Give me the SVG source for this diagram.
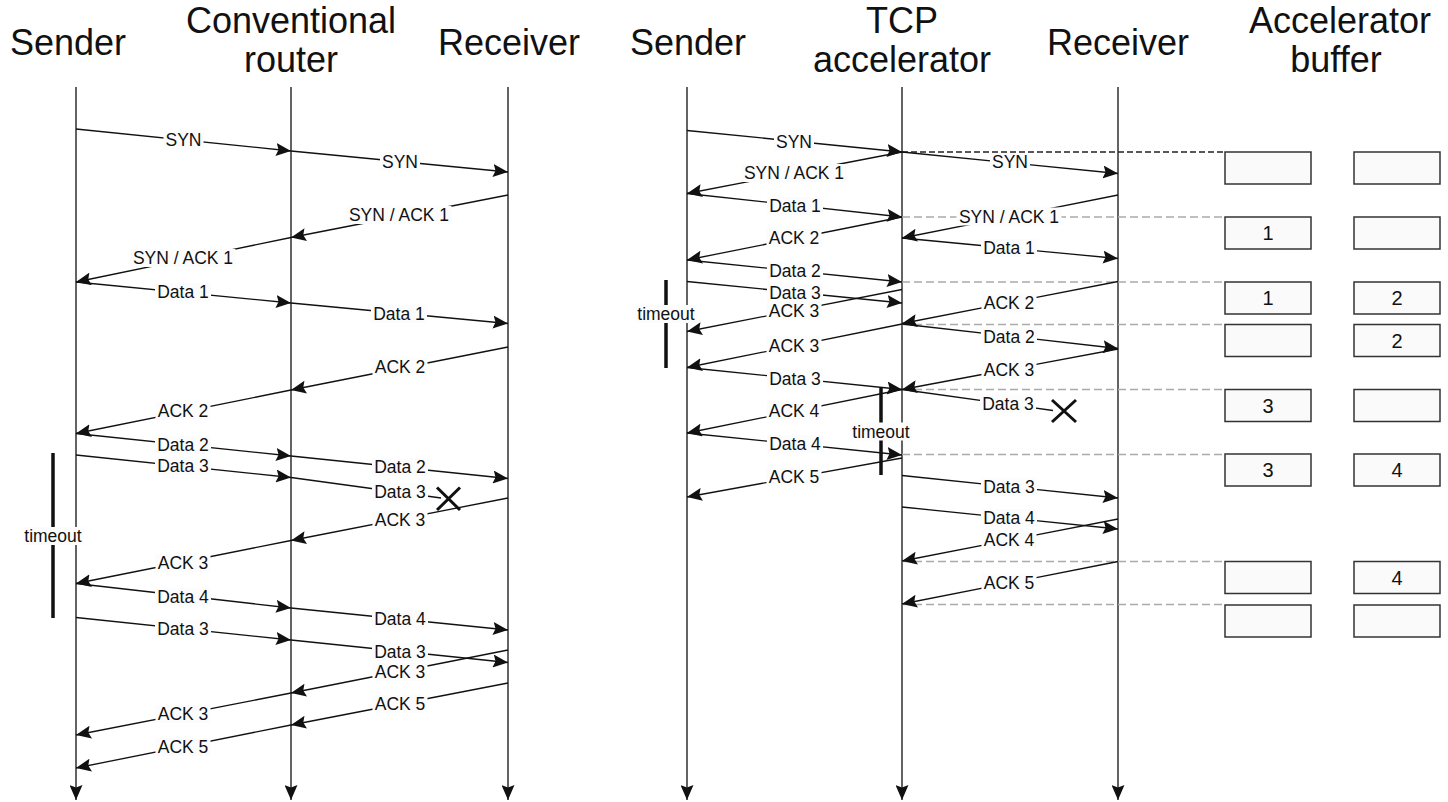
<svg xmlns="http://www.w3.org/2000/svg" width="1448" height="802" viewBox="0 0 1448 802">
<style>
.title{font-family:"Liberation Sans",Arial,sans-serif;font-size:36px;fill:#111;text-anchor:middle}
.ll{stroke:#222;stroke-width:1.4;fill:none;marker-end:url(#ah)}
.m{stroke:#111;stroke-width:1.3;fill:none;marker-end:url(#ah)}
.m0{stroke:#111;stroke-width:1.3;fill:none}
.bg{fill:#fcfcfc}
.lbl{font-family:"Liberation Sans",Arial,sans-serif;font-size:17.5px;fill:#111;text-anchor:middle}
.dk{stroke:#222;stroke-width:1.5;stroke-dasharray:6 3;fill:none}
.dg{stroke:#aaa;stroke-width:1.5;stroke-dasharray:8 4;fill:none}
.box{fill:#fafafa;stroke:#333;stroke-width:1.5}
.num{font-family:"Liberation Sans",Arial,sans-serif;font-size:20px;fill:#111;text-anchor:middle}
.tb{stroke:#111;stroke-width:3.5}
.x{stroke:#111;stroke-width:3}
</style>
<defs>
<marker id="ah" markerUnits="userSpaceOnUse" viewBox="0 0 15 13" markerWidth="15" markerHeight="13" refX="15" refY="6.5" orient="auto">
<path d="M0,0 L15,6.5 L0,13 L2.5,6.5 z" fill="#111"/>
</marker>
</defs>
<rect width="1448" height="802" fill="#fff"/>

<g id="l-sender"><text class="title" x="68" y="55">Sender</text><line class="ll" x1="76" y1="87" x2="76" y2="800"/></g>
<g id="l-router"><text class="title" x="291" y="33">Conventional</text><text class="title" x="291" y="72">router</text><line class="ll" x1="291" y1="87" x2="291" y2="800"/></g>
<g id="l-receiver"><text class="title" x="509" y="55">Receiver</text><line class="ll" x1="508" y1="87" x2="508" y2="800"/></g>
<g id="r-sender"><text class="title" x="688" y="55">Sender</text><line class="ll" x1="687" y1="87" x2="687" y2="800"/></g>
<g id="r-accel"><text class="title" x="902" y="33">TCP</text><text class="title" x="902" y="72">accelerator</text><line class="ll" x1="902" y1="87" x2="902" y2="800"/></g>
<g id="r-receiver"><text class="title" x="1118" y="55">Receiver</text><line class="ll" x1="1118" y1="87" x2="1118" y2="800"/></g>

<g id="buffer">
<text class="title" x="1340" y="33">Accelerator</text><text class="title" x="1336" y="72">buffer</text>
<g id="buf1"><rect class="box" x="1225" y="152" width="86" height="32"/><rect class="box" x="1354" y="152" width="86" height="32"/></g>
<g id="buf2"><rect class="box" x="1225" y="217" width="86" height="32"/><rect class="box" x="1354" y="217" width="86" height="32"/><text class="num" x="1268" y="240">1</text></g>
<g id="buf3"><rect class="box" x="1225" y="282" width="86" height="32"/><rect class="box" x="1354" y="282" width="86" height="32"/><text class="num" x="1268" y="305">1</text><text class="num" x="1397" y="305">2</text></g>
<g id="buf4"><rect class="box" x="1225" y="324.5" width="86" height="32"/><rect class="box" x="1354" y="324.5" width="86" height="32"/><text class="num" x="1397" y="347.5">2</text></g>
<g id="buf5"><rect class="box" x="1225" y="389.5" width="86" height="32"/><rect class="box" x="1354" y="389.5" width="86" height="32"/><text class="num" x="1268" y="412.5">3</text></g>
<g id="buf6"><rect class="box" x="1225" y="454" width="86" height="32"/><rect class="box" x="1354" y="454" width="86" height="32"/><text class="num" x="1268" y="477">3</text><text class="num" x="1397" y="477">4</text></g>
<g id="buf7"><rect class="box" x="1225" y="561.5" width="86" height="32"/><rect class="box" x="1354" y="561.5" width="86" height="32"/><text class="num" x="1397" y="584.5">4</text></g>
<g id="buf8"><rect class="box" x="1225" y="605" width="86" height="32"/><rect class="box" x="1354" y="605" width="86" height="32"/></g>
</g>

<g id="connectors">
<line class="dk" x1="902" y1="152" x2="1225" y2="152"/>
<line class="dg" x1="902" y1="217" x2="1225" y2="217"/>
<line class="dg" x1="902" y1="282" x2="1225" y2="282"/>
<line class="dg" x1="902" y1="324.5" x2="1225" y2="324.5"/>
<line class="dg" x1="902" y1="389.5" x2="1225" y2="389.5"/>
<line class="dg" x1="902" y1="454.5" x2="1225" y2="454.5"/>
<line class="dg" x1="902" y1="561.5" x2="1225" y2="561.5"/>
<line class="dg" x1="902" y1="604.5" x2="1225" y2="604.5"/>

<line class="m" x1="76" y1="129" x2="291" y2="151"/>
<line class="m" x1="291" y1="151" x2="508" y2="172"/>
<line class="m" x1="508" y1="195" x2="291" y2="237.5"/>
<line class="m" x1="291" y1="237.5" x2="76" y2="282"/>
<line class="m" x1="76" y1="282" x2="291" y2="303"/>
<line class="m" x1="291" y1="303" x2="508" y2="323.5"/>
<line class="m" x1="508" y1="347" x2="291" y2="390"/>
<line class="m" x1="291" y1="390" x2="76" y2="433.5"/>
<line class="m" x1="76" y1="433.5" x2="291" y2="456"/>
<line class="m" x1="76" y1="455" x2="291" y2="477.5"/>
<line class="m" x1="291" y1="456" x2="508" y2="478.5"/>
<line class="m0" x1="291" y1="477.5" x2="441" y2="498"/>
<line class="m" x1="508" y1="498" x2="291" y2="540.5"/>
<line class="m" x1="291" y1="540.5" x2="76" y2="583.5"/>
<line class="m" x1="76" y1="583.5" x2="291" y2="608"/>
<line class="m" x1="291" y1="608" x2="508" y2="630"/>
<line class="m" x1="76" y1="617.5" x2="291" y2="640"/>
<line class="m" x1="291" y1="640" x2="508" y2="662.5"/>
<line class="m" x1="508" y1="650" x2="291" y2="693"/>
<line class="m" x1="508" y1="683" x2="291" y2="725"/>
<line class="m" x1="291" y1="693" x2="76" y2="735"/>
<line class="m" x1="291" y1="725" x2="76" y2="768"/>

<line class="m" x1="687" y1="130.5" x2="902" y2="152"/>
<line class="m" x1="902" y1="152" x2="1118" y2="173.5"/>
<line class="m" x1="902" y1="152" x2="687" y2="193.5"/>
<line class="m" x1="687" y1="193.5" x2="902" y2="217"/>
<line class="m" x1="1118" y1="195" x2="902" y2="238"/>
<line class="m" x1="902" y1="217" x2="687" y2="260"/>
<line class="m" x1="902" y1="238" x2="1118" y2="258.5"/>
<line class="m" x1="687" y1="260" x2="902" y2="282"/>
<line class="m" x1="687" y1="281.5" x2="902" y2="303"/>
<line class="m" x1="902" y1="289.5" x2="687" y2="331.5"/>
<line class="m" x1="1118" y1="281.5" x2="902" y2="323.5"/>
<line class="m" x1="902" y1="324" x2="1118" y2="348.5"/>
<line class="m" x1="902" y1="324" x2="687" y2="367.5"/>
<line class="m" x1="687" y1="367.5" x2="902" y2="389.5"/>
<line class="m" x1="1118" y1="349" x2="902" y2="389.5"/>
<line class="m0" x1="902" y1="389.5" x2="1053" y2="410.5"/>
<line class="m" x1="902" y1="389.5" x2="687" y2="433"/>
<line class="m" x1="687" y1="433" x2="902" y2="455"/>
<line class="m" x1="902" y1="458" x2="687" y2="497"/>
<line class="m" x1="902" y1="475.5" x2="1118" y2="498"/>
<line class="m" x1="902" y1="507" x2="1118" y2="529"/>
<line class="m" x1="1118" y1="519" x2="902" y2="561"/>
<line class="m" x1="1118" y1="561.5" x2="902" y2="604"/>

<path class="x" d="M437,487.5 L460,510 M460,487.5 L437,510"/>
<path class="x" d="M1052,400 L1076,422 M1076,400 L1052,422"/>

<line class="tb" x1="53" y1="453" x2="53" y2="618"/>
<line class="tb" x1="666" y1="280" x2="666" y2="368"/>
<line class="tb" x1="881" y1="388" x2="881" y2="475"/>

<g><rect class="bg" x="163.5" y="131" width="40" height="18"/><text class="lbl" x="183.5" y="146">SYN</text></g>
<g><rect class="bg" x="380" y="152.5" width="40" height="18"/><text class="lbl" x="400" y="167.5">SYN</text></g>
<g><rect class="bg" x="346.5" y="206" width="105" height="18"/><text class="lbl" x="399" y="221">SYN / ACK 1</text></g>
<g><rect class="bg" x="130.5" y="249" width="105" height="18"/><text class="lbl" x="183" y="264">SYN / ACK 1</text></g>
<g><rect class="bg" x="155" y="283" width="56" height="18"/><text class="lbl" x="183" y="298">Data 1</text></g>
<g><rect class="bg" x="371" y="305" width="56" height="18"/><text class="lbl" x="399" y="320">Data 1</text></g>
<g><rect class="bg" x="372.5" y="358" width="55" height="18"/><text class="lbl" x="400" y="373">ACK 2</text></g>
<g><rect class="bg" x="155.5" y="402" width="55" height="18"/><text class="lbl" x="183" y="417">ACK 2</text></g>
<g><rect class="bg" x="155" y="436" width="56" height="18"/><text class="lbl" x="183" y="451">Data 2</text></g>
<g><rect class="bg" x="155" y="457" width="56" height="18"/><text class="lbl" x="183" y="472">Data 3</text></g>
<g><rect class="bg" x="372" y="458" width="56" height="18"/><text class="lbl" x="400" y="473">Data 2</text></g>
<g><rect class="bg" x="372" y="483" width="56" height="18"/><text class="lbl" x="400" y="498">Data 3</text></g>
<g><rect class="bg" x="372.5" y="511" width="55" height="18"/><text class="lbl" x="400" y="526">ACK 3</text></g>
<g><rect class="bg" x="155.5" y="554" width="55" height="18"/><text class="lbl" x="183" y="569">ACK 3</text></g>
<g><rect class="bg" x="155" y="588" width="56" height="18"/><text class="lbl" x="183" y="603">Data 4</text></g>
<g><rect class="bg" x="372" y="610" width="56" height="18"/><text class="lbl" x="400" y="625">Data 4</text></g>
<g><rect class="bg" x="155" y="620" width="56" height="18"/><text class="lbl" x="183" y="635">Data 3</text></g>
<g><rect class="bg" x="372" y="643" width="56" height="18"/><text class="lbl" x="400" y="658">Data 3</text></g>
<g><rect class="bg" x="372.5" y="663" width="55" height="18"/><text class="lbl" x="400" y="678">ACK 3</text></g>
<g><rect class="bg" x="372.5" y="695" width="55" height="18"/><text class="lbl" x="400" y="710">ACK 5</text></g>
<g><rect class="bg" x="155.5" y="705" width="55" height="18"/><text class="lbl" x="183" y="720">ACK 3</text></g>
<g><rect class="bg" x="155.5" y="738" width="55" height="18"/><text class="lbl" x="183" y="753">ACK 5</text></g>
<g><rect class="bg" x="23" y="527" width="61" height="18"/><text class="lbl" x="53" y="542">timeout</text></g>

<g><rect class="bg" x="774" y="132.5" width="40" height="18"/><text class="lbl" x="794" y="147.5">SYN</text></g>
<g><rect class="bg" x="990" y="153" width="40" height="18"/><text class="lbl" x="1010" y="168">SYN</text></g>
<g><rect class="bg" x="741.5" y="164" width="105" height="18"/><text class="lbl" x="794" y="179">SYN / ACK 1</text></g>
<g><rect class="bg" x="767" y="197" width="56" height="18"/><text class="lbl" x="795" y="212">Data 1</text></g>
<g><rect class="bg" x="956.5" y="207.5" width="105" height="18"/><text class="lbl" x="1009" y="222.5">SYN / ACK 1</text></g>
<g><rect class="bg" x="766.5" y="229" width="55" height="18"/><text class="lbl" x="794" y="244">ACK 2</text></g>
<g><rect class="bg" x="981" y="239" width="56" height="18"/><text class="lbl" x="1009" y="254">Data 1</text></g>
<g><rect class="bg" x="767" y="262" width="56" height="18"/><text class="lbl" x="795" y="277">Data 2</text></g>
<g><rect class="bg" x="767" y="283.5" width="56" height="18"/><text class="lbl" x="795" y="298.5">Data 3</text></g>
<g><rect class="bg" x="766.5" y="301.5" width="55" height="18"/><text class="lbl" x="794" y="316.5">ACK 3</text></g>
<g><rect class="bg" x="981.5" y="293.5" width="55" height="18"/><text class="lbl" x="1009" y="308.5">ACK 2</text></g>
<g><rect class="bg" x="981" y="327.5" width="56" height="18"/><text class="lbl" x="1009" y="342.5">Data 2</text></g>
<g><rect class="bg" x="766.5" y="336.5" width="55" height="18"/><text class="lbl" x="794" y="351.5">ACK 3</text></g>
<g><rect class="bg" x="767" y="369.5" width="56" height="18"/><text class="lbl" x="795" y="384.5">Data 3</text></g>
<g><rect class="bg" x="981.5" y="361" width="55" height="18"/><text class="lbl" x="1009" y="376">ACK 3</text></g>
<g><rect class="bg" x="980" y="394.5" width="56" height="18"/><text class="lbl" x="1008" y="409.5">Data 3</text></g>
<g><rect class="bg" x="766.5" y="401.5" width="55" height="18"/><text class="lbl" x="794" y="416.5">ACK 4</text></g>
<g><rect class="bg" x="767" y="435" width="56" height="18"/><text class="lbl" x="795" y="450">Data 4</text></g>
<g><rect class="bg" x="766.5" y="468" width="55" height="18"/><text class="lbl" x="794" y="483">ACK 5</text></g>
<g><rect class="bg" x="981" y="477.5" width="56" height="18"/><text class="lbl" x="1009" y="492.5">Data 3</text></g>
<g><rect class="bg" x="981" y="509" width="56" height="18"/><text class="lbl" x="1009" y="524">Data 4</text></g>
<g><rect class="bg" x="981.5" y="530.5" width="55" height="18"/><text class="lbl" x="1009" y="545.5">ACK 4</text></g>
<g><rect class="bg" x="981.5" y="573.5" width="55" height="18"/><text class="lbl" x="1009" y="588.5">ACK 5</text></g>
<g><rect class="bg" x="636" y="305" width="61" height="18"/><text class="lbl" x="666" y="320">timeout</text></g>
<g><rect class="bg" x="850.5" y="422.5" width="61" height="18"/><text class="lbl" x="881" y="437.5">timeout</text></g>
</g>
</svg>
